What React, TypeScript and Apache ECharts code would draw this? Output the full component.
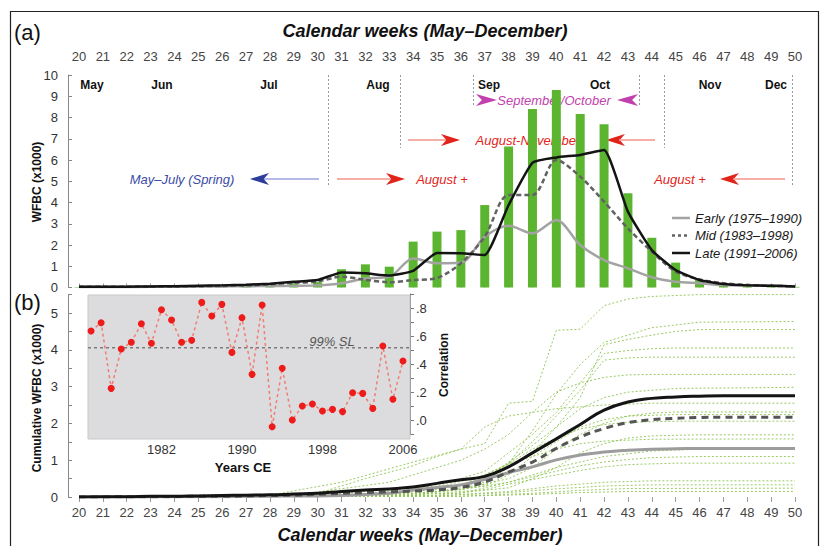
import React, { useEffect, useRef } from 'react';
import * as echarts from 'echarts';

const FONT = '"Liberation Sans", Arial, Helvetica, sans-serif';

// ---------- Data ----------
const weeks = [20, 21, 22, 23, 24, 25, 26, 27, 28, 29, 30, 31, 32, 33, 34, 35, 36, 37, 38, 39, 40, 41, 42, 43, 44, 45, 46, 47, 48, 49, 50];

// Panel (a): weekly WFBC (x1000)
const weeklyBars = [0.02, 0.02, 0.03, 0.03, 0.05, 0.06, 0.1, 0.1, 0.15, 0.2, 0.25, 0.86, 1.09, 0.98, 2.16, 2.63, 2.7, 3.88, 6.63, 8.4, 9.29, 8.16, 7.68, 4.43, 2.34, 1.17, 0.35, 0.1, 0.06, 0.04, 0.03];
const earlyWeekly = [0.02, 0.02, 0.02, 0.03, 0.03, 0.04, 0.05, 0.06, 0.07, 0.08, 0.1, 0.2, 0.42, 0.5, 1.37, 1.14, 1.16, 2.39, 2.91, 2.55, 3.18, 2.0, 1.29, 0.9, 0.48, 0.27, 0.2, 0.12, 0.1, 0.08, 0.05];
const midWeekly = [0.03, 0.03, 0.04, 0.04, 0.05, 0.06, 0.08, 0.1, 0.15, 0.22, 0.28, 0.51, 0.36, 0.25, 0.35, 0.45, 1.14, 2.39, 4.35, 4.35, 6.0, 5.22, 4.04, 2.78, 1.69, 0.75, 0.38, 0.2, 0.12, 0.08, 0.05];
const lateWeekly = [0.03, 0.03, 0.04, 0.05, 0.06, 0.08, 0.1, 0.13, 0.18, 0.27, 0.35, 0.71, 0.67, 0.56, 0.78, 1.62, 1.61, 1.53, 3.88, 5.87, 6.12, 6.24, 6.47, 3.57, 1.76, 0.82, 0.35, 0.16, 0.1, 0.08, 0.05];

// Panel (b): cumulative WFBC (x1000)
const earlyCum = [0, 0, 0, 0, 0.01, 0.01, 0.01, 0.02, 0.02, 0.03, 0.03, 0.04, 0.07, 0.1, 0.19, 0.26, 0.33, 0.48, 0.66, 0.82, 1.01, 1.14, 1.22, 1.27, 1.3, 1.31, 1.32, 1.32, 1.32, 1.32, 1.32];
const midCum = [0, 0, 0.01, 0.01, 0.01, 0.02, 0.02, 0.03, 0.04, 0.05, 0.07, 0.1, 0.12, 0.14, 0.16, 0.19, 0.26, 0.41, 0.68, 0.95, 1.32, 1.63, 1.86, 2.02, 2.1, 2.14, 2.16, 2.17, 2.17, 2.17, 2.17];
const lateCum = [0, 0.01, 0.01, 0.02, 0.02, 0.03, 0.04, 0.05, 0.06, 0.08, 0.1, 0.15, 0.19, 0.22, 0.27, 0.37, 0.47, 0.56, 0.82, 1.2, 1.58, 1.97, 2.36, 2.58, 2.68, 2.72, 2.74, 2.75, 2.75, 2.75, 2.75];

// individual yearly cumulative curves: [week, value]
const yearlyCumulative = [
  [[20, 0], [28, 0.05], [31, 0.4], [34, 0.95], [36, 1.3], [37, 1.45], [38, 2.55], [39, 2.6], [40, 4.53], [41, 4.56], [42, 5.2], [43, 5.38], [44, 5.45], [46, 5.5], [50, 5.5]],
  [[20, 0], [32, 0.05], [36, 0.3], [38, 0.9], [39, 1.8], [40, 2.8], [41, 3.6], [42, 4.2], [44, 4.6], [46, 4.75], [50, 4.77]],
  [[20, 0], [33, 0.05], [37, 0.4], [39, 1.2], [40, 1.9], [41, 2.7], [42, 4.14], [43, 4.28], [44, 4.4], [45, 4.5], [46, 4.55], [50, 4.55]],
  [[20, 0], [30, 0.05], [35, 0.3], [37, 0.7], [38, 1.2], [39, 1.7], [40, 2.3], [41, 3.1], [42, 3.9], [43, 3.98], [44, 4.03], [45, 4.05], [50, 4.05]],
  [[20, 0], [34, 0.05], [37, 0.35], [38, 0.9], [39, 1.5], [40, 2.2], [41, 2.9], [42, 3.72], [43, 3.78], [44, 3.8], [50, 3.8]],
  [[20, 0], [29, 0.05], [33, 0.4], [36, 1.0], [37, 1.3], [38, 1.7], [39, 2.3], [40, 2.85], [41, 3.1], [42, 3.25], [43, 3.32], [44, 3.33], [50, 3.33]],
  [[20, 0], [31, 0.05], [35, 0.2], [37, 0.5], [39, 1.4], [40, 1.9], [41, 2.4], [42, 2.7], [43, 2.85], [45, 2.95], [50, 2.98]],
  [[20, 0], [30, 0.1], [32, 0.5], [34, 0.85], [35, 1.1], [36, 1.3], [37, 1.9], [38, 2.2], [39, 2.3], [40, 2.4], [42, 2.5], [44, 2.55], [50, 2.55]],
  [[20, 0], [33, 0.05], [36, 0.2], [38, 0.5], [39, 0.8], [40, 1.3], [41, 1.7], [42, 2.0], [43, 2.2], [44, 2.28], [45, 2.31], [50, 2.31]],
  [[20, 0], [34, 0.05], [37, 0.3], [38, 0.6], [39, 1.1], [40, 1.5], [41, 1.9], [42, 2.1], [43, 2.2], [45, 2.24], [50, 2.24]],
  [[20, 0], [32, 0.05], [36, 0.3], [37, 0.5], [38, 0.9], [39, 1.3], [40, 1.6], [41, 1.85], [42, 1.97], [43, 2.03], [45, 2.06], [50, 2.06]],
  [[20, 0], [35, 0.05], [38, 0.25], [39, 0.5], [40, 0.8], [41, 1.2], [42, 1.45], [43, 1.6], [44, 1.66], [46, 1.69], [50, 1.69]],
  [[20, 0], [31, 0.05], [35, 0.25], [37, 0.6], [38, 0.9], [39, 1.1], [40, 1.3], [41, 1.45], [42, 1.52], [44, 1.57], [50, 1.58]],
  [[20, 0], [36, 0.1], [38, 0.4], [40, 0.8], [42, 1.1], [44, 1.25], [46, 1.3], [50, 1.3]],
  [[20, 0], [33, 0.05], [36, 0.2], [38, 0.4], [39, 0.55], [40, 0.7], [41, 0.85], [42, 0.95], [43, 1.02], [44, 1.07], [46, 1.1], [50, 1.1]],
  [[20, 0], [34, 0.05], [37, 0.2], [38, 0.35], [40, 0.6], [41, 0.72], [42, 0.82], [43, 0.88], [45, 0.92], [50, 0.92]],
  [[20, 0], [35, 0.03], [38, 0.15], [40, 0.3], [42, 0.4], [44, 0.44], [50, 0.44]],
  [[20, 0], [35, 0.03], [38, 0.12], [40, 0.22], [42, 0.3], [44, 0.33], [50, 0.33]],
  [[20, 0], [36, 0.02], [39, 0.1], [41, 0.18], [43, 0.23], [50, 0.24]],
  [[20, 0], [36, 0.02], [39, 0.07], [41, 0.12], [43, 0.15], [50, 0.15]],
];

// Inset: correlation by year
const corrYears = [1975, 1976, 1977, 1978, 1979, 1980, 1981, 1982, 1983, 1984, 1985, 1986, 1987, 1988, 1989, 1990, 1991, 1992, 1993, 1994, 1995, 1996, 1997, 1998, 1999, 2000, 2001, 2002, 2003, 2004, 2005, 2006];
const correlation = [0.636, 0.695, 0.226, 0.507, 0.555, 0.688, 0.548, 0.788, 0.714, 0.555, 0.569, 0.84, 0.743, 0.826, 0.483, 0.731, 0.326, 0.821, -0.048, 0.369, 0.0, 0.1, 0.114, 0.064, 0.076, 0.06, 0.195, 0.19, 0.083, 0.529, 0.148, 0.421];
const significance99 = 0.516;
const yearLabels = [1982, 1990, 1998, 2006];
const yearTicks = [1976, 1978, 1980, 1982, 1984, 1986, 1988, 1990, 1992, 1994, 1996, 1998, 2000, 2002, 2004, 2006];

const seriesNames = ['Early (1975–1990)', 'Mid (1983–1998)', 'Late (1991–2006)'];
const monthNames = ['May', 'Jun', 'Jul', 'Aug', 'Sep', 'Oct', 'Nov', 'Dec'];

// ---------- helpers ----------
function text(x: number, y: number, s: string, font: string, fill = '#111', align = 'center', rotation = 0, z = 1) {
  return {
    type: 'text', x, y, rotation, z, silent: true,
    style: { text: s, font, fill, textAlign: align, textVerticalAlign: 'middle', align, verticalAlign: 'middle' },
  };
}
function hline(x1: number, x2: number, y: number, stroke: string, w = 1.5, z = 1) {
  return { type: 'line', z, silent: true, shape: { x1, y1: y, x2, y2: y }, style: { stroke, lineWidth: w } };
}
function vdot(x: number, y1: number, y2: number) {
  return { type: 'line', z: 1, silent: true, shape: { x1: x, y1, x2: x, y2 }, style: { stroke: '#9a9a9a', lineWidth: 1, lineDash: [2, 2] } };
}
function head(tx: number, ty: number, dir: number, fill: string, len = 19, hh = 6) {
  return {
    type: 'polygon', z: 1, silent: true,
    shape: { points: [[tx, ty], [tx - dir * len, ty - hh], [tx - dir * len * 0.72, ty], [tx - dir * len, ty + hh]] },
    style: { fill },
  };
}

export default function App() {
  const ref = useRef<HTMLDivElement>(null);
  useEffect(() => {
    if (!ref.current) return;
    const chart = echarts.init(ref.current, null, { renderer: 'svg', width: 820, height: 546 });

    const pair = (arr: number[]) => weeks.map((w, i) => [w, arr[i]]);
    const red = '#e2231a';
    const redLine = '#f2948a';
    const mag = '#c23fae';
    const blue = '#2d3b9c';
    const monthX = [92, 162, 269, 378, 489, 600, 710, 776];

    const legendColors = ['#a3a3a3', '#626262', '#141414'];
    const legendDash: any[] = [null, [3, 3], null];
    const legendY = [218, 235.5, 253];

    const graphic: any[] = [
      { type: 'rect', z: 0, silent: true, shape: { x: 10.5, y: 11.5, width: 808, height: 560 }, style: { fill: 'none', stroke: '#222', lineWidth: 1.2 } },
      text(14, 32, '(a)', `22px ${FONT}`, '#111', 'left'),
      text(14, 302, '(b)', `22px ${FONT}`, '#111', 'left'),
      text(425, 31, 'Calendar weeks (May–December)', `italic bold 18px ${FONT}`),
      text(420, 535, 'Calendar weeks (May–December)', `italic bold 18px ${FONT}`),
      text(37, 182, 'WFBC (x1000)', `bold 12px ${FONT}`, '#111', 'center', Math.PI / 2),
      text(37, 398, 'Cumulative WFBC (x1000)', `bold 12px ${FONT}`, '#111', 'center', Math.PI / 2),
      ...monthNames.map((m, i) => text(monthX[i], 85, m, `bold 12px ${FONT}`)),
      vdot(328.5, 75, 185), vdot(400.5, 75, 148), vdot(473.5, 75, 105), vdot(639.5, 75, 105), vdot(664.5, 75, 148), vdot(792.5, 75, 187),
      // May-July
      text(182, 179, 'May–July (Spring)', `italic 13px ${FONT}`, '#3c4ba6'),
      hline(262, 319, 179, '#9ea2e0'), head(250, 179, -1, blue),
      // August + (left)
      hline(337, 392, 179, redLine), head(405, 179, 1, red),
      text(442, 179, 'August +', `italic 13px ${FONT}`, red),
      // August + (right)
      text(680, 179, 'August +', `italic 13px ${FONT}`, red),
      head(720, 179, -1, red), hline(733, 785, 179, redLine),
      // August-November
      hline(408, 447, 140, redLine), head(460, 140, 1, red),
      text(528, 140, 'August-November', `italic 13px ${FONT}`, red),
      head(606, 140, -1, red), hline(619, 655, 140, redLine),
      // September/October
      head(497, 100, 1, mag, 21, 6), text(554, 100, 'September/October', `italic 13px ${FONT}`, mag), head(617, 100, -1, mag, 21, 6),
      // legend
      ...seriesNames.map((n, i) => ({
        type: 'line', z: 6, silent: true, shape: { x1: 672, y1: legendY[i], x2: 690, y2: legendY[i] },
        style: { stroke: legendColors[i], lineWidth: 2.5, lineDash: legendDash[i] || undefined },
      })),
      ...seriesNames.map((n, i) => text(695, legendY[i], n, `italic 13px ${FONT}`, '#1a1a1a', 'left', 0, 6)),
      // inset
      { type: 'rect', z: 1, silent: true, shape: { x: 88, y: 295, width: 322, height: 144 }, style: { fill: '#dcdcde', stroke: '#c8c8c8', lineWidth: 1 } },
      text(332, 341, '99% SL', `italic 13px ${FONT}`, '#555'),
      text(243, 467, 'Years CE', `bold 13px ${FONT}`),
      text(444, 365, 'Correlation', `bold 12px ${FONT}`, '#111', 'center', Math.PI / 2),
    ];

    const weekAxisLabel = { fontFamily: FONT, fontSize: 13, color: '#444' };

    const option: any = {
      animation: false,
      backgroundColor: '#fff',
      textStyle: { fontFamily: FONT },
      grid: [
        { left: 79, width: 716, top: 75, height: 212.5 },
        { left: 79, width: 716, top: 294.6, height: 202.4 },
        { left: 81, width: 329, top: 294, height: 140 },
      ],
      xAxis: [
        {
          type: 'value', gridIndex: 0, min: 20, max: 50, interval: 1, position: 'top', offset: 7,
          axisLine: { show: false }, axisTick: { show: true, length: 4, lineStyle: { color: '#999' } },
          axisLabel: { ...weekAxisLabel, margin: 5 }, splitLine: { show: false },
        },
        {
          type: 'value', gridIndex: 1, min: 20, max: 50, interval: 1, position: 'bottom', offset: 3,
          axisLine: { show: false }, axisTick: { show: true, length: 5, lineStyle: { color: '#999' } },
          axisLabel: { ...weekAxisLabel, margin: 6 }, splitLine: { show: false },
        },
        {
          type: 'value', gridIndex: 2, min: 1974, max: 2006.7, interval: 2, position: 'bottom',
          axisLine: { show: false }, axisTick: { show: true, length: 5, lineStyle: { color: '#777' }, customValues: yearTicks },
          axisLabel: {
            fontFamily: FONT, fontSize: 13, color: '#333', margin: 9, showMinLabel: true, showMaxLabel: false,
            formatter: (v: number) => (yearLabels.includes(Math.round(v)) ? String(Math.round(v)) : ''),
          },
          splitLine: { show: false },
        },
      ],
      yAxis: [
        {
          type: 'value', gridIndex: 0, min: 0, max: 10, interval: 1, offset: 11,
          axisLine: { show: true, lineStyle: { color: '#888' } }, axisTick: { show: true, inside: true, length: 4, lineStyle: { color: '#888' } },
          axisLabel: { fontFamily: FONT, fontSize: 13, color: '#333', margin: 10 }, splitLine: { show: false },
        },
        {
          type: 'value', gridIndex: 1, min: 0, max: 5.5, interval: 0.5, offset: 11,
          axisLine: { show: true, lineStyle: { color: '#888' } }, axisTick: { show: true, inside: true, length: 4, lineStyle: { color: '#888' } },
          axisLabel: {
            fontFamily: FONT, fontSize: 13, color: '#333', margin: 10,
            formatter: (v: number) => (Math.abs(v - Math.round(v)) < 1e-6 ? String(Math.round(v)) : ''),
          },
          splitLine: { show: false },
        },
        {
          type: 'value', gridIndex: 2, min: -0.1, max: 0.9, interval: 0.1, position: 'right',
          axisLine: { show: true, lineStyle: { color: '#777' } }, axisTick: { show: true, length: 4, lineStyle: { color: '#777' } },
          axisLabel: {
            fontFamily: FONT, fontSize: 13, color: '#333', margin: 6,
            formatter: (v: number) => {
              const k = Math.round(v * 10);
              return k >= 0 && k % 2 === 0 && k <= 8 ? '.' + k : '';
            },
          },
          splitLine: { show: false },
        },
      ],
      graphic,
      series: [
        { type: 'bar', xAxisIndex: 0, yAxisIndex: 0, data: pair(weeklyBars), barWidth: 9, itemStyle: { color: '#5cb531' }, z: 2 },
        { name: seriesNames[0], type: 'line', xAxisIndex: 0, yAxisIndex: 0, data: pair(earlyWeekly), symbol: 'none', smooth: 0.3, lineStyle: { color: '#a3a3a3', width: 2.5 }, z: 3 },
        { name: seriesNames[1], type: 'line', xAxisIndex: 0, yAxisIndex: 0, data: pair(midWeekly), symbol: 'none', smooth: 0.3, lineStyle: { color: '#626262', width: 2.5, type: [5, 3] }, z: 4 },
        { name: seriesNames[2], type: 'line', xAxisIndex: 0, yAxisIndex: 0, data: pair(lateWeekly), symbol: 'none', smooth: 0.15, lineStyle: { color: '#141414', width: 2.5 }, z: 5 },
        ...yearlyCumulative.map((d, i) => ({
          name: 'year' + i, type: 'line', xAxisIndex: 1, yAxisIndex: 1, data: d, symbol: 'none', silent: true,
          lineStyle: { color: '#8fc452', width: 1, type: [2, 2], opacity: 0.9 }, z: 2,
        })),
        { name: 'earlyCum', type: 'line', xAxisIndex: 1, yAxisIndex: 1, data: pair(earlyCum), symbol: 'none', smooth: true, lineStyle: { color: '#9c9c9c', width: 3 }, z: 6 },
        { name: 'midCum', type: 'line', xAxisIndex: 1, yAxisIndex: 1, data: pair(midCum), symbol: 'none', smooth: true, lineStyle: { color: '#555', width: 3, type: [7, 5] }, z: 7 },
        { name: 'lateCum', type: 'line', xAxisIndex: 1, yAxisIndex: 1, data: pair(lateCum), symbol: 'none', smooth: true, lineStyle: { color: '#141414', width: 3 }, z: 8 },
        {
          name: 'sl', type: 'line', xAxisIndex: 2, yAxisIndex: 2, data: [[1974.7, significance99], [2006.7, significance99]], symbol: 'none', silent: true,
          lineStyle: { color: '#7a7a7a', width: 1.3, type: [3, 3] }, z: 3,
        },
        {
          name: 'corr', type: 'line', xAxisIndex: 2, yAxisIndex: 2, data: corrYears.map((y, i) => [y, correlation[i]]),
          symbol: 'circle', symbolSize: 7, itemStyle: { color: '#ee1b1b' },
          lineStyle: { color: '#f07c72', width: 1.5, type: [3, 3] }, z: 4,
        },
      ],
    };
    chart.setOption(option);
    return () => chart.dispose();
  }, []);
  return <div ref={ref} style={{ position: 'absolute', left: 0, top: 0, width: 820, height: 546 }} />;
}
